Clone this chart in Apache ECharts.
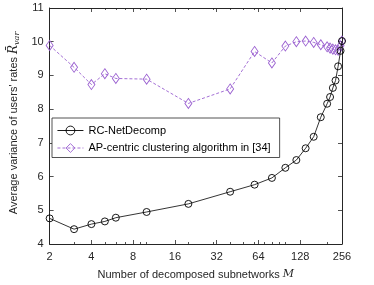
<!DOCTYPE html>
<html>
<head>
<meta charset="utf-8">
<script src="https://cdn.jsdelivr.net/npm/echarts@6/dist/echarts.min.js"></script>
<style>html,body{margin:0;padding:0;background:#fff}#c{width:374px;height:285px}</style>
</head>
<body>
<div id="c"></div>
<script>
const subnetworks = [2,3,4,5,6,10,20,40,60,80,100,120,140,160,180,200,210,220,230,240,250,256];
const rcNetDecomp = [4.76,4.44,4.59,4.67,4.78,4.95,5.19,5.55,5.76,5.96,6.26,6.49,6.84,7.18,7.76,8.16,8.36,8.63,8.85,9.27,9.73,10.02];
const apCentric = [9.89,9.24,8.73,9.05,8.91,8.89,8.17,8.6,9.71,9.37,9.87,10.0,10.02,9.98,9.91,9.85,9.81,9.78,9.76,9.75,9.88,10.02];
const xMajorTicks = [2,4,8,16,32,64,128,256];
const xMinorTicks = [3,5,6,7,9,10,20,30,40,50,60,70,80,90,100,200];
const seriesNames = ['RC-NetDecomp','AP-centric clustering algorithm in [34]'];

const axisColor = '#262626';
const purple = '#9a60d0';
const font = 'Liberation Sans, Arial, sans-serif';
const chart = echarts.init(document.getElementById('c'), null, {renderer:'canvas'});

function xAx(pos, opts) {
  return Object.assign({
    type:'log', logBase:2, min:2, max:256, position:pos,
    axisLine:{show:true, onZero:false, lineStyle:{color:axisColor, width:1}},
    axisTick:{show:true, inside:true, length:4, lineStyle:{color:axisColor, width:0.8}},
    axisLabel:{show:false},
    splitLine:{show:false}, minorTick:{show:false}
  }, opts);
}
function yAx(pos, opts) {
  return Object.assign({
    type:'value', min:4, max:11, interval:1, position:pos,
    axisLine:{show:true, onZero:false, lineStyle:{color:axisColor, width:1}},
    axisTick:{show:true, inside:true, length:4, lineStyle:{color:axisColor, width:0.8}},
    axisLabel:{show:false},
    splitLine:{show:false}
  }, opts);
}

chart.setOption({
  animation:false,
  backgroundColor:'#fff',
  grid:{left:41, right:32, top:8, bottom:40, containLabel:false},
  legend:{
    orient:'vertical', left:52, top:118,
    padding:[7,9,4,5], itemGap:6.5, itemWidth:26, itemHeight:11,
    backgroundColor:'#fff', borderColor:axisColor, borderWidth:0.8, borderRadius:0,
    textStyle:{fontFamily:font, fontSize:11, color:'#000'},
    lineStyle:{width:0.9},
    itemStyle:{borderWidth:0.9},
    data:seriesNames
  },
  xAxis:[
    xAx('bottom', {
      axisTick:{show:true, inside:true, length:4, customValues:xMajorTicks, lineStyle:{color:axisColor, width:0.8}},
      axisLabel:{show:true, customValues:xMajorTicks, margin:7, color:axisColor, fontFamily:font, fontSize:11},
      name:'Number of decomposed subnetworks {m|M}', nameLocation:'middle', nameGap:25,
      nameTextStyle:{fontFamily:font, fontSize:11, color:axisColor,
        rich:{m:{fontFamily:'DejaVu Serif', fontStyle:'italic', fontSize:11, color:axisColor}}}
    }),
    xAx('top', {axisTick:{show:true, inside:true, length:4, customValues:xMajorTicks, lineStyle:{color:axisColor, width:0.8}}}),
    xAx('bottom', {axisLine:{show:false}, axisTick:{show:true, inside:true, length:2, customValues:xMinorTicks, lineStyle:{color:axisColor, width:0.8}}}),
    xAx('top', {axisLine:{show:false}, axisTick:{show:true, inside:true, length:2, customValues:xMinorTicks, lineStyle:{color:axisColor, width:0.8}}})
  ],
  yAxis:[
    yAx('left', {
      axisLabel:{show:true, margin:6, color:axisColor, fontFamily:font, fontSize:11},
      name:"Average variance of users' rates {r|R\u0304}{s|var}", nameLocation:'middle', nameGap:24,
      nameTextStyle:{fontFamily:font, fontSize:11, color:axisColor, padding:[0,0,0,6],
        rich:{r:{fontFamily:'DejaVu Serif', fontStyle:'italic', fontSize:12, color:axisColor},
              s:{fontFamily:'DejaVu Serif', fontStyle:'italic', fontSize:8, color:axisColor, padding:[5,0,0,0]}}}
    }),
    yAx('right')
  ],
  series:[
    {
      name:seriesNames[0], type:'line', xAxisIndex:0, yAxisIndex:0,
      data:subnetworks.map((m,i)=>[m, rcNetDecomp[i]]),
      symbol:'circle', symbolSize:7, showAllSymbol:true,
      lineStyle:{color:'#000', width:0.8},
      itemStyle:{color:'rgba(255,255,255,0)', borderColor:'#000', borderWidth:0.9},
      z:3
    },
    {
      name:seriesNames[1], type:'line', xAxisIndex:0, yAxisIndex:0,
      data:subnetworks.map((m,i)=>[m, apCentric[i]]),
      symbol:'diamond', symbolSize:[7,10], showAllSymbol:true,
      lineStyle:{color:purple, width:0.9, type:[3,2]},
      itemStyle:{color:'rgba(255,255,255,0)', borderColor:purple, borderWidth:0.9},
      z:2
    }
  ]
});
</script>
</body>
</html>
